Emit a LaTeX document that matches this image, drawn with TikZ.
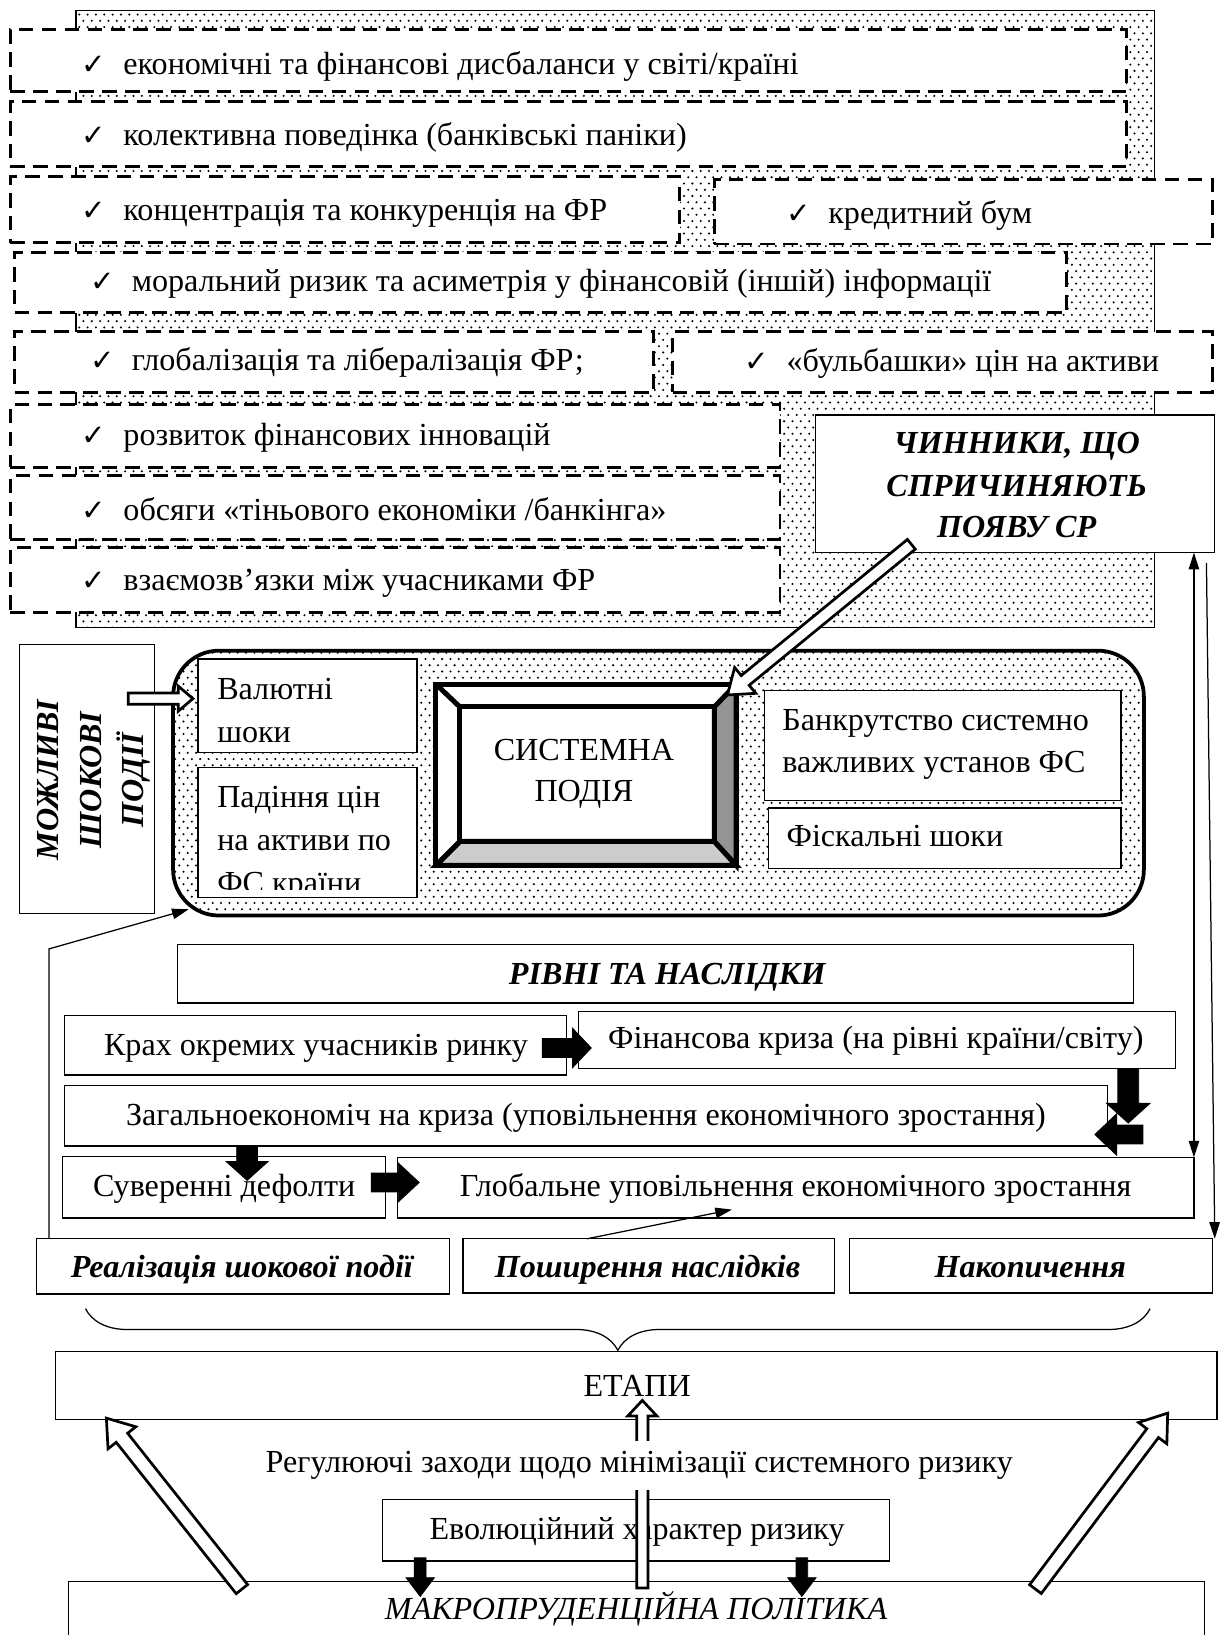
\documentclass[tikz,border=0pt]{standalone}
\usepackage{fontspec}
\setmainfont{Liberation Serif}
\newfontfamily\symf{DejaVu Sans}
\usetikzlibrary{calc,fit,patterns,decorations.pathreplacing,arrows.meta}

\pgfdeclarepatternformonly{stipple}{\pgfqpoint{-1pt}{-1pt}}{\pgfqpoint{5pt}{7pt}}{\pgfqpoint{4pt}{6pt}}{%
  \pgfpathcircle{\pgfqpoint{0pt}{0pt}}{.55pt}%
  \pgfpathcircle{\pgfqpoint{2pt}{3pt}}{.55pt}%
  \pgfusepath{fill}}

\newcommand{\blockarrow}[6][]{%
  \path let \p1=($(#3)-(#2)$) in \pgfextra{%
    \pgfmathsetmacro\baang{atan2(\y1,\x1)}%
    \pgfmathsetmacro\balen{veclen(\x1,\y1)}%
    \global\let\baang\baang\global\let\balen\balen};
  \begin{scope}[shift={(#2)}, rotate=\baang]
    \draw[#1] (0pt,-#4) -- ({\balen pt-#6},-#4) -- ({\balen pt-#6},-#5)
      -- (\balen pt,0pt) -- ({\balen pt-#6},#5) -- ({\balen pt-#6},#4)
      -- (0pt,#4) -- cycle;
  \end{scope}}
\newcommand{\chk}{\makebox[20pt][l]{\symf\fontsize{14}{14}\selectfont ✓}}
\newcommand{\mainsize}{\fontsize{15.4}{20.5}\selectfont}

\tikzset{
  box/.style={draw, line width=0.6pt, fill=white, inner sep=0pt},
  dbox/.style={draw, line width=1.4pt, dash pattern=on 7pt off 4pt, fill=white, inner sep=0pt},
  dotfill/.style={pattern=stipple, pattern color=black},
  tl/.style={inner sep=0pt, anchor=mid west, yshift=-2.2pt},
  tc/.style={inner sep=0pt, anchor=mid, yshift=-2.2pt},
  tb/.style={inner sep=0pt, anchor=base},
  bi/.style={font=\mainsize\bfseries\itshape},
  thinarr/.style={line width=0.6pt, -{Triangle[length=8pt,width=5pt]}},
  dblarr/.style={line width=0.6pt, {Triangle[length=8pt,width=5pt]}-{Triangle[length=8pt,width=5pt]}},
  solidarr/.style={fill=black, draw=black, line width=0.4pt},
  hollowarr/.style={fill=white, draw=black, line width=1.3pt, line join=miter},
  bevel/.style={draw=black, line width=2.4pt, line join=miter},
}

\begin{document}
\begin{tikzpicture}[x=0.5pt, y=-0.5pt, font=\mainsize]
\useasboundingbox (0,0) rectangle (1171,1568);

% ---------- factors area ----------
\node[draw, line width=0.6pt, dotfill, inner sep=0pt, fit={(73,10) (1107,602)}] (bg) {};

\node[dbox, fit={(10,28) (1080,88)}] (d1) {};
\node[dbox, fit={(10,97) (1080,160)}] (d2) {};
\node[dbox, fit={(10,169) (652,233)}] (d3) {};
\node[dbox, fit={(685,172) (1163,234)}] (d4) {};
\node[dbox, fit={(14,242) (1023,300)}] (d5) {};
\node[dbox, fit={(14,318) (627,376)}] (d6) {};
\node[dbox, fit={(645,318) (1163,376)}] (d7) {};
\node[dbox, fit={(10,388) (748,448)}] (d8) {};
\node[dbox, fit={(10,456) (748,517)}] (d9) {};
\node[dbox, fit={(10,525) (748,587)}] (d10) {};

\node[tl] (t1) at (78,62) {\chk економічні та фінансові дисбаланси у світі/країні};
\node[tl] (t2) at (78,131) {\chk колективна поведінка (банківські паніки)};
\node[tl] (t3) at (78,202) {\chk концентрація та конкуренція на ФР};
\node[tl] (t4) at (754,205) {\chk кредитний бум};
\node[tl] (t5) at (86,271) {\chk моральний ризик та асиметрія у фінансовій (іншій) інформації};
\node[tl] (t6) at (86,346) {\chk глобалізація та лібералізація ФР;};
\node[tl] (t7) at (714,347) {\chk «бульбашки» цін на активи};
\node[tl] (t8) at (78,418) {\chk розвиток фінансових інновацій};
\node[tl] (t9) at (78,490) {\chk обсяги «тіньового економіки /банкінга»};
\node[tl] (t10) at (78,557) {\chk взаємозв’язки між учасниками ФР};

\node[box, fit={(782,398) (1165,530)}] (fact) {};
\node[tb, bi] (f1) at (975,435) {ЧИННИКИ, ЩО};
\node[tb, bi] (f2) at (975,476) {СПРИЧИНЯЮТЬ};
\node[tb, bi] (f3) at (975,515) {ПОЯВУ СР};

% ---------- shock events ----------
\node[draw, line width=1.8pt, rounded corners=22pt, dotfill, inner sep=0pt, fit={(166,624) (1097,878)}] (rr) {};
\node[box, fit={(19,618) (148,876)}] (shock) {};
\node[bi, rotate=90, align=center, inner sep=0pt] (shockt) at (90,748) {МОЖЛИВІ\\ШОКОВІ\\ПОДІЇ};

\node[box, fit={(190,632) (400,722)}] (val) {};
\node[tl] (val1) at (208,662) {Валютні};
\node[tl] (val2) at (208,703) {шоки};

\node[box, fit={(190,736) (400,861)}] (pad) {};
\node[tl] (pad1) at (208,765) {Падіння цін};
\node[tl] (pad2) at (208,807) {на активи по};
\begin{scope}
  \clip (190,736) rectangle (400,853);
  \node[tl] (pad3) at (208,848) {ФС країни};
\end{scope}

\node[inner sep=0pt, fit={(418,656) (706,830)}] (sys) {};
\fill[white] (418,656) rectangle (706,830);
\filldraw[bevel, fill=black!42] (685,678) -- (706,656) -- (706,830) -- (685,807) -- cycle;
\filldraw[bevel, fill=black!20] (441,807) -- (685,807) -- (706,830) -- (418,830) -- cycle;
\draw[bevel] (418,656) rectangle (706,830);
\draw[bevel] (441,678) rectangle (685,807);
\draw[bevel] (418,656) -- (441,678) (418,830) -- (441,807);
\node[tb] (sys1) at (560,729) {СИСТЕМНА};
\node[tb] (sys2) at (560,769) {ПОДІЯ};

\node[box, fit={(733,662) (1075,768)}] (bank) {};
\node[tl] (bank1) at (750,692) {Банкрутство системно};
\node[tl] (bank2) at (750,732) {важливих установ ФС};
\node[box, fit={(737,775) (1075,833)}] (fisc) {};
\node[tl] (fisc1) at (754,803) {Фіскальні шоки};

% hollow arrows in upper part
\coordinate (h1s) at (874,522);
\coordinate (h1e) at (697,667);
\blockarrow[hollowarr]{h1s}{h1e}{3pt}{8pt}{11pt}
\coordinate (h2s) at (123,670);
\coordinate (h2e) at (185,670);
\blockarrow[hollowarr]{h2s}{h2e}{2.7pt}{6pt}{7pt}

% ---------- levels ----------
\node[box, fit={(170,906) (1087,962)}] (lev) {};
\node[tb, bi] (levt) at (640,944) {РІВНІ ТА НАСЛІДКИ};

\node[box, fit={(62,974) (543,1031)}] (krah) {};
\node[tc] (kraht) at (303,1003) {Крах окремих учасників ринку};
\node[box, fit={(555,970) (1127,1025)}] (fin) {};
\node[tc] (fint) at (840,997) {Фінансова криза (на рівні країни/світу)};
\node[box, fit={(62,1041) (1062,1099)}] (zag) {};
\node[tc] (zagt) at (562,1070) {Загальноекономіч на криза (уповільнення економічного зростання)};
\node[box, fit={(60,1109) (370,1168)}] (suv) {};
\node[tc] (suvt) at (215,1138) {Суверенні дефолти};
\node[box, fit={(381,1110) (1145,1168)}] (glob) {};
\node[tc] (globt) at (763,1138) {Глобальне уповільнення економічного зростання};

\coordinate (b1s) at (520,1005);  \coordinate (b1e) at (567,1005);
\blockarrow[solidarr]{b1s}{b1e}{4.5pt}{9.5pt}{9pt}
\coordinate (b2s) at (1082,1025); \coordinate (b2e) at (1082,1077);
\blockarrow[solidarr]{b2s}{b2e}{5pt}{10.5pt}{9.5pt}
\coordinate (b3s) at (1096,1088); \coordinate (b3e) at (1050,1088);
\blockarrow[solidarr]{b3s}{b3e}{4.5pt}{10pt}{10.5pt}
\coordinate (b4s) at (237,1099);  \coordinate (b4e) at (237,1132);
\blockarrow[solidarr]{b4s}{b4e}{5pt}{10pt}{9pt}
\coordinate (b5s) at (356,1134);  \coordinate (b5e) at (402,1134);
\blockarrow[solidarr]{b5s}{b5e}{4.5pt}{9.3pt}{10pt}

% ---------- stages ----------
\node[box, fit={(35,1188) (431,1241)}] (real) {};
\node[tc, bi] (realt) at (232,1216) {Реалізація шокової події};
\node[box, fit={(444,1188) (800,1240)}] (posh) {};
\node[tc, bi] (posht) at (621,1216) {Поширення наслідків};
\node[box, fit={(815,1188) (1163,1240)}] (nak) {};
\node[tc, bi] (nakt) at (988,1216) {Накопичення};

% thin connectors
\coordinate (c1) at (47,910);
\coordinate (c1e) at (181,872);
\draw[thinarr] (real.north -| c1) -- (c1) -- (c1e);
\coordinate (c2s) at (563,1188);
\coordinate (c2e) at (702,1160);
\draw[thinarr] (c2s) -- (c2e);
\coordinate (c3s) at (1145,530);
\coordinate (c3e) at (1145,1110);
\draw[dblarr] (c3s) -- (c3e);
\coordinate (c4s) at (1157,540);
\coordinate (c4e) at (1165,1188);
\draw[thinarr] (c4s) -- (c4e);

% brace
\draw[line width=0.6pt, decorate, decoration={brace, amplitude=20pt, aspect=0.5}] (1103,1255) -- (82,1255);

\node[box, fit={(53,1296) (1167,1361)}] (etap) {};
\node[tb] (etapt) at (611,1339) {ЕТАПИ};

\node[box, fit={(367,1438) (853,1497)}] (evol) {};
\node[tc] (evolt) at (611,1467) {Еволюційний характер ризику};

\node[box, fit={(66,1517) (1155,1600)}] (makro) {};
\node[tb, font=\mainsize\itshape] (makrot) at (610,1553) {МАКРОПРУДЕНЦІЙНА ПОЛІТИКА};

\coordinate (b6s) at (403,1494); \coordinate (b6e) at (403,1531);
\blockarrow[solidarr]{b6s}{b6e}{2.8pt}{6.8pt}{9pt}
\coordinate (b7s) at (769,1494); \coordinate (b7e) at (769,1531);
\blockarrow[solidarr]{b7s}{b7e}{2.8pt}{6.8pt}{9pt}

\coordinate (h3s) at (232,1524); \coordinate (h3e) at (102,1360);
\blockarrow[hollowarr]{h3s}{h3e}{3.5pt}{8.5pt}{12pt}
\coordinate (h4s) at (993,1524); \coordinate (h4e) at (1120,1355);
\blockarrow[hollowarr]{h4s}{h4e}{3.5pt}{8.5pt}{12pt}
\coordinate (h5s) at (616,1523); \coordinate (h5e) at (616,1343);
\blockarrow[hollowarr]{h5s}{h5e}{2.7pt}{7pt}{7.5pt}

\node[tc, fill=white, inner xsep=3pt, inner ysep=5pt] (regt) at (613,1403) {Регулюючі заходи щодо мінімізації системного ризику};
\end{tikzpicture}
\end{document}
